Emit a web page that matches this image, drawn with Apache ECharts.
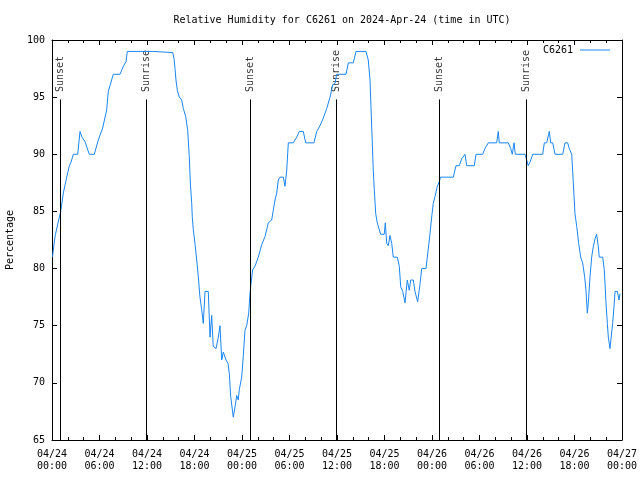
<!DOCTYPE html>
<html>
<head>
<meta charset="utf-8">
<script src="https://cdn.jsdelivr.net/npm/echarts@6/dist/echarts.min.js"></script>
<style>html,body{margin:0;padding:0;background:#fff;}#chart{width:640px;height:480px;}</style>
</head>
<body>
<div id="chart"></div>
<script>
// Hours since 2024-04-24 00:00 UTC
const hours = [0.06,0.19,0.32,0.44,0.63,0.76,1.10,1.43,1.86,2.19,2.40,2.69,3.25,3.54,3.79,4.17,4.38,4.71,5.34,5.85,6.40,6.91,7.11,7.33,7.74,8.59,9.01,9.35,9.51,12.72,12.80,15.25,15.41,15.54,15.66,15.83,16.08,16.38,16.59,16.89,17.14,17.34,17.49,17.65,17.72,17.85,18.06,18.28,18.48,18.69,18.91,19.11,19.33,19.74,19.96,20.17,20.37,20.72,21.01,21.22,21.44,21.64,21.98,22.23,22.40,22.57,22.90,23.12,23.33,23.53,23.66,23.96,24.16,24.38,24.59,24.85,25.01,25.14,25.35,25.64,26.06,26.49,26.91,27.32,27.75,27.95,28.17,28.38,28.59,28.80,29.22,29.43,29.65,29.85,30.48,30.91,31.24,31.74,32.05,33.09,33.44,33.85,34.23,34.70,35.12,35.46,35.75,35.96,37.14,37.43,38.06,38.40,39.66,39.95,40.17,40.29,40.46,40.58,40.71,40.89,41.09,41.34,41.52,41.97,42.10,42.28,42.48,42.69,42.91,43.11,43.62,43.87,44.05,44.30,44.59,44.88,45.13,45.31,45.64,45.85,46.19,46.48,46.70,47.24,47.41,47.66,47.96,48.16,48.38,48.67,48.92,49.07,50.69,51.03,51.45,51.75,52.17,52.38,53.34,53.56,54.40,54.69,55.11,56.17,56.37,56.50,57.64,57.94,58.14,58.36,58.52,59.75,59.96,60.16,60.38,60.72,61.98,62.19,62.49,62.82,62.99,63.25,63.54,64.51,64.80,65.14,65.34,65.65,65.85,66.06,66.28,66.53,66.78,67.03,67.28,67.45,67.62,67.75,67.96,68.17,68.37,68.59,68.80,69.01,69.13,69.56,69.76,69.98,70.15,70.27,70.48,70.70,70.82,70.99,71.12,71.41,71.62,71.74];
const humidity = [81,81,82.5,83,83,84,85,86.6,88,89,89.3,90,90,92,91.5,91.1,91,90,90,91.25,92.3,93.9,95.5,96,97,97,97.7,98.1,99,99,98.9,98.9,98.4,97.5,96.5,95.6,95,94.75,94,93.3,92.1,89.8,87.3,85.7,84.5,83.4,82.2,80.75,79.3,77.5,76.4,75.2,78,78,74,75.9,73.2,73,74,75,72,72.7,72,71.7,70.8,68.8,67,67.9,68.9,68.5,69.4,70.5,72.3,74.6,75,76.1,77.8,78.7,79.9,80.2,81,82.1,82.8,84,84.25,85.1,86,86.6,87.75,88,88,87.2,88.6,91,91,91.5,92,92,91,91,92,92.5,93.1,94,95,96.1,96.2,97,97,98,98,99,99,98.25,96.5,94.2,91,88.6,86.9,84.8,84,83.4,83,83,84,82.2,82,82.9,82.2,81,81,80.2,78.4,78,77,79,78.1,79,79,78,77.1,78.6,80,80,81,82.5,84.5,85.7,86.3,87.2,87.6,88,88,89,89,89.6,90,89,89,90,90,90.5,91,91,92,91,91,90.5,90,91,90,90,89.5,89,89.3,90,90,91,91,92,91,91,90,90,91,91,90.5,90,87.5,84.8,83.7,82.2,81,80.5,79.3,78.1,76.1,77,79.3,81,81.9,82.6,83,81.9,81,81,79.9,77,75.2,74,73,73,75.2,76.7,78,78,77.25,77.8];
const tickLabels = ['04/24\n00:00','04/24\n06:00','04/24\n12:00','04/24\n18:00','04/25\n00:00','04/25\n06:00','04/25\n12:00','04/25\n18:00','04/26\n00:00','04/26\n06:00','04/26\n12:00','04/26\n18:00','04/27\n00:00'];
const sunNames = ['Sunset','Sunrise','Sunset','Sunrise','Sunset','Sunrise'];
const sunHours = [1.10, 11.96, 25.0, 35.96, 48.9, 59.96];

const FONT = 'DejaVu Sans Mono';
const seriesData = hours.map((h, i) => [h, humidity[i]]);
const lineTop = 94.8;   // where the marker lines stop
const labelAt = 95.45;  // where the marker labels start

const chart = echarts.init(document.getElementById('chart'), null, {renderer: 'canvas'});
const xCommon = {
  type: 'value', min: 0, max: 72, interval: 6,
  axisLine: {show: true, onZero: false, lineStyle: {color: '#000', width: 1}},
  axisTick: {show: true, inside: true, length: 5, lineStyle: {color: '#000'}},
  minorTick: {show: true, splitNumber: 3, length: 3, lineStyle: {color: '#000'}},
  splitLine: {show: false}
};
const yCommon = {
  type: 'value', min: 65, max: 100, interval: 5,
  axisLine: {show: true, onZero: false, lineStyle: {color: '#000', width: 1}},
  axisTick: {show: true, inside: true, length: 5, lineStyle: {color: '#000'}},
  splitLine: {show: false}
};
chart.setOption({
  animation: false,
  backgroundColor: '#fff',
  title: {
    text: 'Relative Humidity for C6261 on 2024-Apr-24 (time in UTC)',
    left: 337, top: 10, textAlign: 'center',
    textStyle: {fontFamily: FONT, fontSize: 10, fontWeight: 'normal', color: '#000'}
  },
  legend: {
    data: ['C6261'], right: 25, top: 40, align: 'right',
    icon: 'rect', itemWidth: 30, itemHeight: 1, itemGap: 10,
    textStyle: {fontFamily: FONT, fontSize: 10, color: '#000', padding: [0, 2, 0, 0]}
  },
  grid: {left: 52, right: 18, top: 40, bottom: 40, containLabel: false, outerBoundsMode: 'none'},
  xAxis: [
    Object.assign({}, xCommon, {position: 'bottom',
      axisLabel: {show: true, margin: 8, fontFamily: FONT, fontSize: 10, color: '#000', lineHeight: 12,
        formatter: v => tickLabels[Math.round(v / 6)] || ''}}),
    Object.assign({}, xCommon, {position: 'top', axisLabel: {show: false}})
  ],
  yAxis: [
    Object.assign({}, yCommon, {position: 'left',
      name: 'Percentage', nameLocation: 'middle', nameGap: 37, nameRotate: 90,
      nameTextStyle: {fontFamily: FONT, fontSize: 10, color: '#000'},
      axisLabel: {show: true, margin: 7, fontFamily: FONT, fontSize: 10, color: '#000'}}),
    Object.assign({}, yCommon, {position: 'right', axisLabel: {show: false}})
  ],
  series: [
    {
      name: 'C6261', type: 'line', xAxisIndex: 0, yAxisIndex: 0,
      data: seriesData, symbol: 'none', showSymbol: false,
      lineStyle: {color: '#1a86f2', width: 1}, itemStyle: {color: '#1a86f2'},
      z: 3,
      markLine: {
        silent: true, symbol: ['none', 'none'], animation: false,
        lineStyle: {color: '#000', width: 1, type: 'solid'},
        label: {show: false},
        data: sunHours.map(h => [{coord: [h, 65]}, {coord: [h, lineTop]}])
      }
    },
    {
      name: 'sunlabels', type: 'scatter', xAxisIndex: 0, yAxisIndex: 0,
      symbolSize: 0, silent: true, z: 2,
      data: sunHours.map((h, i) => ({value: [h, labelAt], name: sunNames[i]})),
      label: {
        show: true, position: [0, 0], rotate: 90, align: 'left', verticalAlign: 'middle',
        fontFamily: FONT, fontSize: 10, color: '#000',
        formatter: p => p.name
      }
    }
  ]
});
</script>
</body>
</html>
